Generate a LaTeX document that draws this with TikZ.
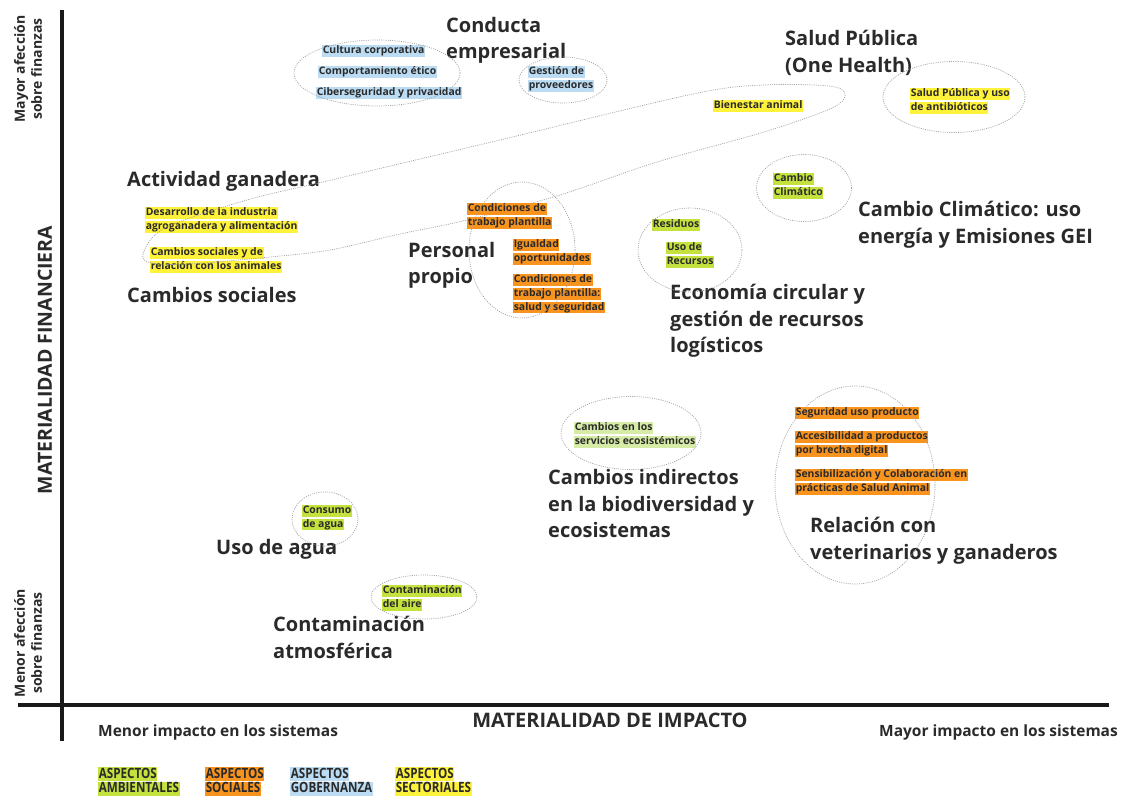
\documentclass[tikz,border=0pt]{standalone}
\usepackage{fontspec}
\setmainfont{Open Sans}
\newfontfamily\condfont[FakeStretch=0.82]{Open Sans}
\usepackage{tikz}
\usetikzlibrary{shapes.geometric}

\definecolor{ambcol}{HTML}{C4E23E}
\definecolor{ambsoft}{HTML}{D6ECA6}
\definecolor{soccol}{HTML}{F8941E}
\definecolor{govcol}{HTML}{BBDCF2}
\definecolor{seccol}{HTML}{FFF23A}
\definecolor{inkgray}{HTML}{2A2A2A}
\definecolor{dotgray}{HTML}{A0A0A0}

\setlength{\fboxsep}{0.6pt}
\newcommand{\hlt}[2]{\colorbox{#1}{\rule[-2.7pt]{0pt}{9.8pt}#2}}

\tikzset{
    areatitle/.style={anchor=north west, inner sep=0pt, align=left, text=inkgray,
        font=\fontsize{20}{26.6}\selectfont\bfseries},
    tag/.style={anchor=north west, inner sep=0pt, align=left, text=inkgray,
        font=\fontsize{10.4}{13.7}\selectfont\bfseries},
    legendtag/.style={tag, font=\condfont\fontsize{14.2}{14.6}\selectfont\bfseries},
    group/.style={ellipse, draw=dotgray, line width=0.7pt,
        dash pattern=on 1pt off 1.2pt, inner sep=0pt},
    groupline/.style={draw=dotgray, line width=0.7pt, dash pattern=on 1pt off 1.2pt},
    axislabel/.style={inner sep=0pt, text=inkgray, align=center,
        font=\fontsize{14}{17}\selectfont\bfseries},
    axisline/.style={line width=3.6pt, color=black!90}
}

\begin{document}
\begin{tikzpicture}[x=1pt, y=-1pt]
    \useasboundingbox (0,0) rectangle (1121,795);

    % axes
    \coordinate (ytop) at (62,10);
    \coordinate (ybot) at (62,741);
    \coordinate (xleft) at (18,705);
    \coordinate (xright) at (1109,705);
    \draw[axisline] (ytop) -- (ybot);
    \draw[axisline] (xleft) -- (xright);

    % axis labels
    \node[axislabel, rotate=90] (finmax) at (28,69) {Mayor afección\\sobre finanzas};
    \node[axislabel, rotate=90] (finmin) at (28,643) {Menor afección\\sobre finanzas};
    \node[axislabel, rotate=90,
    font=\fontsize{19.5}{22}\selectfont\bfseries] (finaxis) at (45,360) {MATERIALIDAD FINANCIERA};
    \node[axislabel,
    font=\fontsize{20}{22}\selectfont\bfseries] (impaxis) at (610,720) {MATERIALIDAD DE IMPACTO};
    \node[axislabel, anchor=west,
    font=\fontsize{15.5}{17}\selectfont\bfseries] (impmin) at (98,732) {Menor impacto en los sistemas};
    \node[axislabel, anchor=east,
    font=\fontsize{15.5}{17}\selectfont\bfseries] (impmax) at (1118,732) {Mayor impacto en los sistemas};

    % conducta empresarial
    \node[areatitle] (conducta) at (446,17) {Conducta\\empresarial};
    \node[tag] (cultura) at (322,45) {\hlt{govcol}{Cultura corporativa}};
    \node[tag] (comport) at (318,66) {\hlt{govcol}{Comportamiento ético}};
    \node[tag] (ciber) at (316,87) {\hlt{govcol}{Ciberseguridad y privacidad}};
    \node[tag] (gestion) at (528,66) {\hlt{govcol}{Gestión de}\\\hlt{govcol}{proveedores}};
    \node[group,
    minimum width=166,
    minimum height=66] (etica) at (377,73) {};
    \node[group,
    minimum width=88,
    minimum height=46] (proveed) at (563,80) {};

    % salud publica
    \node[areatitle] (salud) at (785,30) {Salud Pública\\(One Health)};
    \node[tag] (bienestar) at (713,100) {\hlt{seccol}{Bienestar animal}};
    \node[tag] (antibio) at (910,88) {\hlt{seccol}{Salud Pública y uso}\\\hlt{seccol}{de antibióticos}};
    \node[group,
    minimum width=142,
    minimum height=71] (saludgrp) at (954,97) {};

    % actividad ganadera y cambios sociales
    \node[areatitle] (actividad) at (127,171) {Actividad ganadera};
    \node[areatitle] (cambsoc) at (127,287) {Cambios sociales};
    \node[tag] (desarrollo) at (145,207) {\hlt{seccol}{Desarrollo de la industria}\\\hlt{seccol}{agroganadera y alimentación}};
    \node[tag] (relanim) at (150,247) {\hlt{seccol}{Cambios sociales y de}\\\hlt{seccol}{relación con los animales}};
    \draw[groupline] plot[smooth cycle, tension=0.55] coordinates {
        (143,254) (165,228) (247,200) (327,181) (500,140) (693,94) (764,85)
        (829,86) (845,94) (832,108) (764,132) (657,162) (560,195) (467,220)
        (400,234) (330,250) (270,257) (190,264) (152,263)};

    % personal propio
    \node[areatitle] (personal) at (408,242) {Personal\\propio};
    \node[tag] (condtrab) at (467,203) {\hlt{soccol}{Condiciones de}\\\hlt{soccol}{trabajo plantilla}};
    \node[tag] (igualdad) at (513,239) {\hlt{soccol}{Igualdad}\\\hlt{soccol}{oportunidades}};
    \node[tag] (condsalud) at (513,274) {\hlt{soccol}{Condiciones de}\\\hlt{soccol}{trabajo plantilla:}\\\hlt{soccol}{salud y seguridad}};
    \node[group,
    minimum width=106,
    minimum height=136] (plantilla) at (522,250) {};

    % economia circular
    \node[areatitle] (economia) at (670,284) {Economía circular y\\gestión de recursos\\logísticos};
    \node[tag] (residuos) at (652,219) {\hlt{ambcol}{Residuos}};
    \node[tag] (usorec) at (666,242) {\hlt{ambcol}{Uso de}\\\hlt{ambcol}{Recursos}};
    \node[group,
    minimum width=104,
    minimum height=84] (recursos) at (690,250) {};

    % cambio climatico
    \node[areatitle] (clima) at (858,201) {Cambio Climático: uso\\energía y Emisiones GEI};
    \node[tag] (cambclim) at (773,173) {\hlt{ambcol}{Cambio}\\\hlt{ambcol}{Climático}};
    \node[group,
    minimum width=95,
    minimum height=67] (climagrp) at (804,188) {};

    % biodiversidad
    \node[areatitle] (indirectos) at (548,469) {Cambios indirectos\\en la biodiversidad y\\ecosistemas};
    \node[tag] (ecoserv) at (574,422) {\hlt{ambsoft}{Cambios en los}\\\hlt{ambsoft}{servicios ecosistémicos}};
    \node[group,
    minimum width=140,
    minimum height=73] (biodiv) at (631,433) {};

    % relacion con veterinarios
    \node[areatitle] (relacion) at (810,517) {Relación con\\veterinarios y ganaderos};
    \node[tag] (seguridad) at (795,407) {\hlt{soccol}{Seguridad uso producto}};
    \node[tag] (accesib) at (795,431) {\hlt{soccol}{Accesibilidad a productos}\\\hlt{soccol}{por brecha digital}};
    \node[tag] (sensib) at (795,469) {\hlt{soccol}{Sensibilización y Colaboración en}\\\hlt{soccol}{prácticas de Salud Animal}};
    \node[group,
    minimum width=160,
    minimum height=198] (veterin) at (855,485) {};

    % agua
    \node[areatitle] (usoagua) at (216,539) {Uso de agua};
    \node[tag] (consumo) at (302,505) {\hlt{ambcol}{Consumo}\\\hlt{ambcol}{de agua}};
    \node[group,
    minimum width=66,
    minimum height=54] (aguagrp) at (325,519) {};

    % contaminacion
    \node[areatitle] (contamin) at (273,616) {Contaminación\\atmosférica};
    \node[tag] (aire) at (382,585) {\hlt{ambcol}{Contaminación}\\\hlt{ambcol}{del aire}};
    \node[group,
    minimum width=106,
    minimum height=44] (airegrp) at (424,597) {};

    % legend
    \node[legendtag] (legamb) at (98,767) {\hlt{ambcol}{ASPECTOS}\\\hlt{ambcol}{AMBIENTALES}};
    \node[legendtag] (legsoc) at (205,767) {\hlt{soccol}{ASPECTOS}\\\hlt{soccol}{SOCIALES}};
    \node[legendtag] (leggob) at (290,767) {\hlt{govcol}{ASPECTOS}\\\hlt{govcol}{GOBERNANZA}};
    \node[legendtag] (legsec) at (395,767) {\hlt{seccol}{ASPECTOS}\\\hlt{seccol}{SECTORIALES}};

\end{tikzpicture}
\end{document}
